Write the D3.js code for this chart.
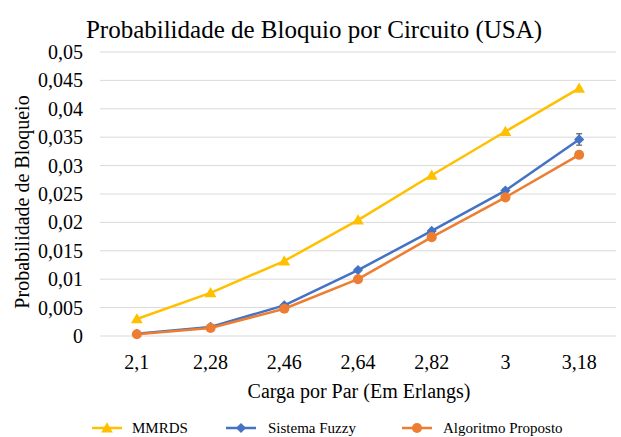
<!DOCTYPE html>
<html>
<head>
<meta charset="utf-8">
<script src="https://cdn.jsdelivr.net/npm/d3@7"></script>
<style>
html,body{margin:0;padding:0;background:#fff;}
svg{display:block;}
</style>
</head>
<body>
<svg id="chart" width="621" height="437"></svg>
<script>
const categories = ["2,1","2,28","2,46","2,64","2,82","3","3,18"];
const mmrds = [0.0030,0.0076,0.0132,0.0204,0.0283,0.0360,0.0436];
const fuzzy = [0.0004,0.0016,0.0054,0.0116,0.0185,0.0256,0.0346];
const fuzzyErr = [0,0,0,0.0002,0.0002,0.0003,0.0010];
const proposto = [0.0003,0.0014,0.0048,0.0100,0.0174,0.0244,0.0319];
const yTicks = [0,0.005,0.01,0.015,0.02,0.025,0.03,0.035,0.04,0.045,0.05];
const seriesNames = ["MMRDS","Sistema Fuzzy","Algoritmo Proposto"];

const FONT = '"Liberation Serif", "Times New Roman", serif';
const svg = d3.select("#chart");
const W = 621, H = 437;
const m = {left:100, right:5, top:52, bottom:101};

const x = d3.scaleBand().domain(categories).range([m.left, W - m.right]);
const y = d3.scaleLinear().domain([0,0.05]).range([H - m.bottom, m.top]);
const cx = c => x(c) + x.bandwidth()/2;

function label(px, py, size, txt, anchor, rotate) {
  return svg.append("text")
    .attr("transform", `translate(${px},${py})${rotate ? ` rotate(${rotate})` : ""}`)
    .attr("text-anchor", anchor || "start")
    .attr("font-family", FONT).attr("font-size", size).attr("fill", "#000")
    .text(txt);
}

// gridlines
svg.append("g").selectAll("line").data(yTicks).join("line")
  .attr("x1", m.left).attr("x2", W - m.right)
  .attr("y1", d => y(d)).attr("y2", d => y(d))
  .attr("stroke", "#d9d9d9").attr("stroke-width", 1);

const fmt = d => d === 0 ? "0" : String(+d.toFixed(3)).replace(".", ",");

// y axis labels
const yAxis = d3.axisLeft(y).tickValues(yTicks).tickFormat(fmt).tickSize(0).tickPadding(0);
const gy = svg.append("g").attr("transform", `translate(${m.left - 17},0)`).call(yAxis)
  .attr("font-family", FONT).attr("font-size", 20);
gy.select(".domain").remove();
gy.selectAll("text").attr("fill", "#000");

// x axis labels
const xAxis = d3.axisBottom(x).tickSize(0).tickPadding(0);
const gx = svg.append("g").attr("transform", `translate(0,${H - m.bottom + 19})`).call(xAxis)
  .attr("font-family", FONT).attr("font-size", 20);
gx.select(".domain").remove();
gx.selectAll("text").attr("fill", "#000");

// titles
label(314, 38, 25, "Probabilidade de Bloquio por Circuito (USA)", "middle");
label(359, 398, 20, "Carga por Par (Em Erlangs)", "middle");
label(29, 202, 20, "Probabilidade de Bloqueio", "middle", -90);

const colors = ["#FFC000","#4472C4","#ED7D31"];
const data = [mmrds, fuzzy, proposto];
const symbols = [
  d3.symbol().type(d3.symbolTriangle).size(60),
  d3.symbol().type(d3.symbolSquare).size(52),
  d3.symbol().type(d3.symbolCircle).size(80)
];
const rot = [0,45,0];

const line = d3.line().x((d,i) => cx(categories[i])).y(d => y(d));

// error bars for fuzzy
const eb = svg.append("g");
fuzzy.forEach((v,i) => {
  const e = fuzzyErr[i]; if (!e) return;
  const px = cx(categories[i]);
  eb.append("line").attr("x1", px).attr("x2", px).attr("y1", y(v+e)).attr("y2", y(v-e)).attr("stroke", "#404040").attr("stroke-width", 1);
  [v+e, v-e].forEach(t => eb.append("line").attr("x1", px-3).attr("x2", px+3).attr("y1", y(t)).attr("y2", y(t)).attr("stroke", "#404040").attr("stroke-width", 1));
});

data.forEach((s, k) => {
  svg.append("path").datum(s).attr("d", line).attr("fill", "none")
    .attr("stroke", colors[k]).attr("stroke-width", 2.5).attr("stroke-linejoin", "round");
  svg.append("g").selectAll("path").data(s).join("path")
    .attr("d", symbols[k])
    .attr("transform", (d,i) => `translate(${cx(categories[i])},${y(d) + (k===0?1:0)}) rotate(${rot[k]})`)
    .attr("fill", colors[k]);
});

// legend
const leg = [{x:92, tx:132},{x:226, tx:268},{x:402, tx:443}];
const ly = 428;
seriesNames.forEach((n,k) => {
  const g = svg.append("g");
  g.append("line").attr("x1", leg[k].x).attr("x2", leg[k].x + 30).attr("y1", ly).attr("y2", ly)
    .attr("stroke", colors[k]).attr("stroke-width", 2.5);
  g.append("path").attr("d", symbols[k]).attr("transform", `translate(${leg[k].x + 15},${ly + (k===0?1:0)}) rotate(${rot[k]})`).attr("fill", colors[k]);
  label(leg[k].tx, ly + 5, 15, n, "start");
});
</script>
</body>
</html>
